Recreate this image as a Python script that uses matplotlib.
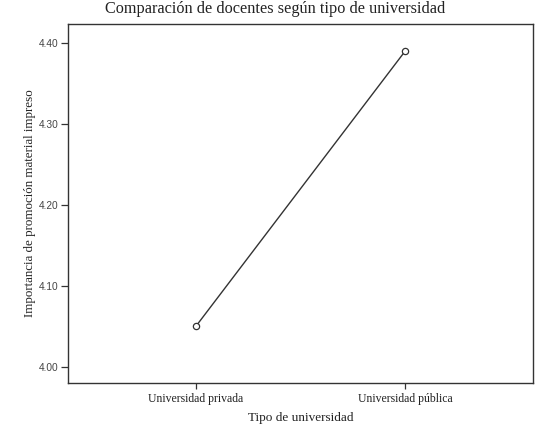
import matplotlib
matplotlib.use("Agg")
import matplotlib.pyplot as plt

categories = ["Universidad privada", "Universidad pública"]
means = [4.05, 4.39]
yticks = [4.00, 4.10, 4.20, 4.30, 4.40]

fig = plt.figure(figsize=(5.5, 4.26), dpi=100)
W, H = 550, 426
left, right, top, bottom = 68, 533, 24, 383
ax = fig.add_axes([left / W, 1 - bottom / H, (right - left) / W, (bottom - top) / H])

x = list(range(len(categories)))
ax.plot(x, means, color="#333333", lw=1.0, marker="o", markersize=4.5,
        markerfacecolor="white", markeredgecolor="#333333", markeredgewidth=0.9)

ax.set_xlim(-0.611, 1.611)
ax.set_ylim(3.980, 4.4235)
ax.set_xticks(x)
ax.set_xticklabels(categories, family="Liberation Serif", fontsize=8.5, color="#222222")
ax.set_yticks(yticks)
ax.set_yticklabels([f"{v:.2f}" for v in yticks], family="Liberation Sans", fontsize=7.3, color="#444444")
ax.tick_params(axis="both", length=4, width=0.9, color="#333333")
ax.tick_params(axis="y", length=5, pad=2)
ax.tick_params(axis="x", pad=3.5)
for s in ax.spines.values():
    s.set_linewidth(1.0)
    s.set_color("#333333")

ax.set_xlabel("Tipo de universidad", family="Liberation Serif", fontsize=9.5, color="#222222", labelpad=5)
ax.set_ylabel("Importancia de promoción material impreso", family="Liberation Serif", fontsize=9.4,
              color="#222222", labelpad=2)
fig.text(0.5, 1 - 9 / H, "Comparación de docentes según tipo de universidad", ha="center", va="center",
         family="Liberation Serif", fontsize=11.7, color="#222222")

fig.savefig("out.png", dpi=100)
